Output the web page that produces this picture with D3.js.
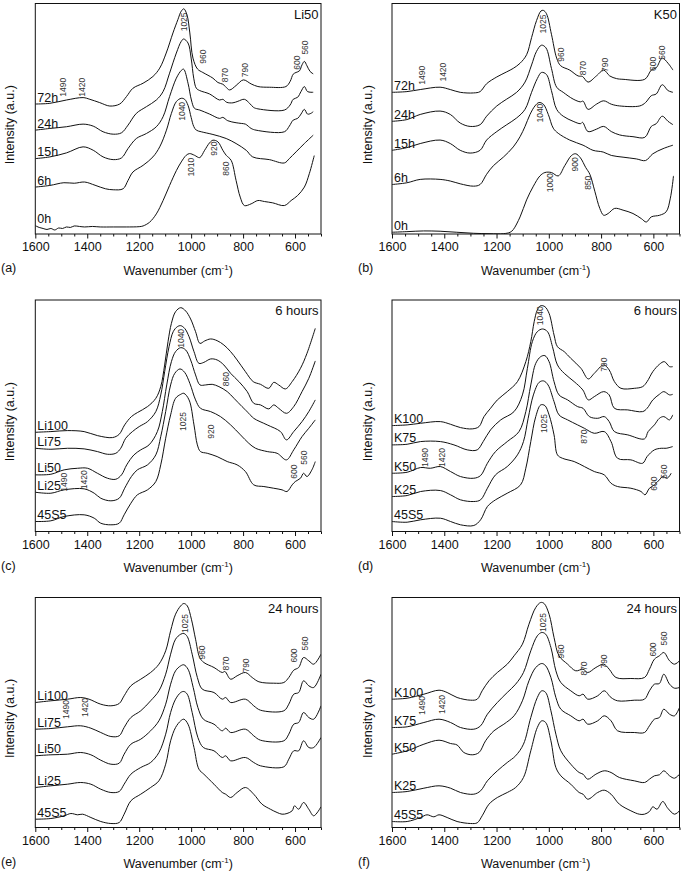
<!DOCTYPE html>
<html><head><meta charset="utf-8">
<script src="https://cdn.jsdelivr.net/npm/d3@7"></script>
<style>body{margin:0;background:#fff}svg{display:block}</style>
</head><body><svg id="chart" width="682" height="874"></svg>
<script>
// ---------- data ----------
const xDomain = [1600, 500];
const xTicksMajor = [1600, 1400, 1200, 1000, 800, 600];
const xTicksMinor = [1550,1500,1450,1350,1300,1250,1150,1100,1050,950,900,850,750,700,650,550,500];
const panelLetters = ["(a)", "(b)", "(c)", "(d)", "(e)", "(f)"];
const panelTitles = ["Li50", "K50", "6 hours", "6 hours", "24 hours", "24 hours"];
const yMaxes = [229.3, 225, 231.7, 231.7, 230, 230];

const seriesA = ["72h", "24h", "15h", "6h", "0h"];
const seriesB = ["72h", "24h", "15h", "6h", "0h"];
const seriesC = ["Li100", "Li75", "Li50", "Li25", "45S5"];
const seriesD = ["K100", "K75", "K50", "K25", "45S5"];
const seriesE = ["Li100", "Li75", "Li50", "Li25", "45S5"];
const seriesF = ["K100", "K75", "K50", "K25", "45S5"];

// panel (a) Li50
const a_72h = [[1600,129.3],[1544,130],[1480,133.3],[1416,135.7],[1390,134],[1352,130.7],[1313,127.3],[1275,129.3],[1249,136.7],[1224,145],[1185,150],[1147,156.7],[1121,165],[1096,180],[1070,200],[1051,213.3],[1038,221.7],[1028,224],[1016,218],[1005,200],[993,175],[975,164],[955,160.7],[916,155],[897,150.7],[878,149],[868,146.7],[852,143.3],[827,147.7],[799,153.3],[769,149.3],[743,146.7],[699,146],[635,146.7],[619,151.7],[607,159],[596,160.7],[583,162.3],[573,168.3],[564,171.7],[554,167.3],[542,161.7],[530,159.3]];
const a_24h = [[1600,103.3],[1544,105],[1480,106.7],[1416,109.3],[1377,107.3],[1339,101.7],[1300,99.3],[1268,100.7],[1243,108.3],[1211,120],[1172,126.7],[1134,133.3],[1108,141.7],[1083,160],[1057,180],[1038,191.7],[1029,194],[1012,190],[1000,175],[990,155],[980,145],[967,142.7],[929,139.3],[891,133.3],[878,134],[863,131],[839,130.5],[820,132],[795,134],[775,130],[760,126],[743,124.5],[641,123.3],[619,128.3],[607,134],[590,136],[577,141.7],[564,146.7],[552,141.7],[530,141]];
const a_15h = [[1600,75],[1544,76.7],[1480,80.7],[1416,86.7],[1377,83.3],[1339,76.7],[1300,74],[1268,75.7],[1243,85],[1211,95],[1172,100],[1134,106.7],[1108,116.7],[1083,136.7],[1057,155],[1038,162.7],[1029,164],[1012,150],[999,133.3],[987,125],[967,123.3],[929,119.3],[891,115],[878,116],[859,112.7],[827,110.7],[807,110],[791,109.3],[769,105],[750,103.3],[641,101.7],[622,107.3],[607,113.3],[590,115],[577,119.3],[564,124],[552,119.3],[539,120],[530,121.7]];
const a_6h = [[1600,46.7],[1544,48.3],[1490,51],[1450,50.5],[1410,51.7],[1370,48.5],[1330,45],[1300,44],[1262,45],[1243,53.3],[1224,61.7],[1185,68.3],[1147,76.7],[1121,86.7],[1095,103.3],[1076,120],[1057,131.7],[1038,135],[1025,134],[1012,128],[1000,116],[990,107],[980,103.3],[961,101.7],[916,99],[865,95],[827,90],[788,83.3],[763,76.7],[699,74],[641,70.7],[622,75],[596,81.7],[564,90],[530,98.3]];
const a_0h = [[1600,8.3],[1585,6.5],[1570,5.5],[1555,4.5],[1540,5.5],[1525,4],[1510,6],[1495,5.5],[1480,7],[1465,6.5],[1450,8],[1430,7.5],[1410,7],[1380,7.5],[1350,7],[1300,7],[1250,7],[1200,7.3],[1185,8],[1160,11.7],[1134,20],[1108,33.3],[1083,48.3],[1057,63],[1038,71.7],[1019,78.3],[1006,80],[987,78.3],[967,76],[948,83.3],[929,90.7],[916,93.3],[897,91.7],[878,83.3],[865,78.3],[846,73.3],[827,53.3],[811,36.7],[795,28.3],[769,30],[743,33.3],[718,32.3],[686,31],[641,28.3],[615,33.3],[590,38.3],[564,46.7],[545,60],[526,78]];

// panel (b) K50
const b_72h = [[1600,138.3],[1543,139],[1492,141],[1416,143.3],[1377,141],[1339,138.3],[1288,137.7],[1263,139],[1238,146.7],[1199,153.3],[1161,158.3],[1136,161.7],[1110,166.7],[1085,175],[1066,191.7],[1047,208.3],[1030,217.7],[1021,218.3],[1009,215],[990,195],[970,171.7],[955,164.3],[920,160],[888,154.3],[871,153.7],[850,148.3],[818,154.3],[790,160],[767,154.3],[741,151.7],[716,151],[633,151],[608,160],[589,162.3],[566,171.7],[544,166.7],[525,160]];
const b_24h = [[1600,110],[1543,111.7],[1492,116.7],[1416,120],[1377,116.7],[1339,108.3],[1301,105],[1263,106.7],[1238,115],[1199,125],[1161,131.7],[1123,138.3],[1091,148.3],[1066,165],[1047,178.3],[1028,184.3],[1011,181.7],[990,161.7],[970,143.3],[945,138.3],[907,131.7],[879,129],[869,129.7],[850,121.7],[818,126.7],[790,130],[761,126.7],[729,125],[652,125],[630,128.3],[608,135],[589,136.7],[566,145.7],[544,140],[525,138.3]];
const b_15h = [[1600,81.7],[1543,84.3],[1492,88.3],[1416,91.7],[1377,88.3],[1339,81.7],[1301,79],[1263,81.7],[1238,91.7],[1199,100],[1161,106.7],[1123,113.3],[1091,121.7],[1066,138.3],[1044,151.7],[1028,157.7],[1009,155.7],[990,140],[970,121.7],[945,115],[907,110],[879,107.7],[871,109],[850,100],[818,102.3],[790,105],[761,100],[729,96.7],[678,95],[633,94.3],[608,105],[589,107.7],[566,115],[544,110],[525,106.7]];
const b_6h = [[1600,48.3],[1543,50],[1492,53.3],[1416,53.3],[1377,51.7],[1339,49],[1288,46.7],[1263,48.3],[1238,58.3],[1212,66.7],[1174,75],[1136,85],[1110,95],[1091,105],[1072,116.7],[1053,125],[1038,128.3],[1021,126.7],[1002,116.7],[983,103.3],[964,98.3],[920,91.7],[869,86.7],[831,81.7],[792,80],[761,76.7],[716,75],[665,73.3],[630,71.7],[602,78.3],[563,83.3],[525,86.7]];
const b_0h = [[1600,1.7],[1543,2.3],[1479,3],[1416,2.7],[1352,1.7],[1288,0.7],[1225,0.3],[1174,0.3],[1148,1.7],[1136,4.3],[1110,16.7],[1085,33.3],[1059,46.7],[1034,56.7],[1015,60],[990,60],[964,56.7],[939,66.7],[913,76.7],[897,78.3],[879,74.3],[859,65],[843,58.3],[824,41.7],[805,25],[790,18.3],[773,20],[748,25],[716,23.3],[678,20],[646,15],[627,11.7],[608,16.7],[576,18.3],[551,21.7],[535,35],[523,56.7]];

// panel (c) 6 hours, Li series
const c_Li100 = [[1600,99.3],[1540,100],[1476,101],[1412,100],[1361,96],[1303,94],[1277,97.3],[1256,106.7],[1230,115],[1207,119],[1168,125],[1136,133.3],[1117,145],[1102,166.7],[1089,190],[1076,208.3],[1060,220],[1040,224],[1021,220.7],[1002,212.7],[983,200],[966,188.3],[948,190.7],[925,192.7],[900,191],[874,186.7],[848,180],[823,171.7],[791,160],[761,150],[733,147.3],[701,143.3],[682,149.3],[663,146.7],[637,142.7],[611,150],[579,163.3],[554,178.3],[522,203.3]];
const c_Li75 = [[1600,83.3],[1540,82.3],[1476,83.3],[1412,82.7],[1361,80],[1322,77.3],[1290,78.3],[1271,83.3],[1252,93.3],[1226,100],[1200,105],[1168,110],[1136,120],[1117,136.7],[1102,160],[1085,185],[1069,200],[1053,205],[1040,206],[1025,203.3],[1008,195],[989,180],[970,168.3],[951,169.3],[925,172.7],[900,171.7],[874,166.7],[848,158.3],[816,150],[784,140],[759,128.3],[733,126.7],[701,122.7],[682,126.7],[663,123.3],[633,118.3],[605,125],[573,140],[547,153.3],[522,170.7]];
const c_Li50 = [[1600,56.7],[1540,57.3],[1489,61.7],[1437,63.3],[1399,63.3],[1361,58.3],[1322,53.3],[1290,52.3],[1268,56.7],[1248,66.7],[1220,76.7],[1194,81.7],[1162,86.7],[1130,100],[1111,120],[1094,146.7],[1076,170],[1060,180],[1040,184],[1021,181.7],[1002,171.7],[983,156.7],[966,146.7],[944,146.7],[919,147.3],[893,145],[861,140],[835,133.3],[804,125],[778,118.3],[759,113.3],[707,106.7],[656,100],[633,91.7],[605,100],[573,110],[547,120],[522,131.7]];
const c_Li25 = [[1600,39.3],[1540,38.3],[1489,41.7],[1412,42.7],[1373,38.3],[1348,33.3],[1309,30.7],[1277,33.3],[1256,43.3],[1230,55],[1207,61.7],[1168,66.7],[1136,76.7],[1117,95],[1098,120],[1079,146.7],[1063,158.3],[1043,162.7],[1025,159.3],[1005,148.3],[983,131.7],[964,123.3],[925,120],[887,115],[848,106.7],[810,96.7],[778,88.3],[752,83.3],[707,80],[669,78.3],[633,71.7],[605,81.7],[573,95],[547,103.3],[522,111.7]];
const c_45S5 = [[1600,10],[1540,10.7],[1489,15],[1412,16.7],[1373,13.3],[1348,8.3],[1309,6.7],[1277,8.3],[1258,16.7],[1232,28.3],[1207,36.7],[1168,41.7],[1136,50],[1117,66.7],[1098,93.3],[1079,116.7],[1060,133.3],[1040,137.3],[1028,138.3],[1008,131.7],[989,106.7],[976,86.7],[964,80],[938,78.3],[900,75],[861,70],[823,66.7],[791,60],[759,46.7],[720,45],[682,43.3],[650,41.7],[631,40],[611,46.7],[599,50],[579,53.3],[567,58.3],[554,55],[535,61.7],[522,70]];

// panel (d) 6 hours, K series
const d_K100 = [[1600,106],[1542,106.7],[1491,108.3],[1415,110],[1376,107.3],[1338,104],[1293,102.7],[1267,105],[1248,115],[1223,123.3],[1197,131.7],[1159,140],[1120,150],[1088,170],[1069,190],[1056,210],[1044,221.7],[1031,226],[1015,225],[999,218.3],[980,196.7],[967,185],[941,180],[916,173.3],[877,163.3],[849,152.7],[826,158.3],[790,166.7],[769,161.7],[749,150],[724,143.3],[673,143.3],[641,145],[624,150],[602,160],[577,167.3],[558,170],[538,165],[526,165]];
const d_K75 = [[1600,86.7],[1542,87.3],[1491,90],[1415,90],[1363,86.7],[1312,81.7],[1274,81.7],[1251,90],[1223,101.7],[1184,111.7],[1133,120],[1101,136.7],[1082,163.3],[1063,190],[1044,200],[1024,202.7],[1005,200],[986,185],[967,166.7],[941,158.3],[903,150],[870,141.7],[849,131.7],[826,135],[790,140],[769,136.7],[749,123.3],[698,121.7],[641,120],[624,123.3],[602,131.7],[577,137.3],[560,140],[538,136.7],[526,137.3]];
const d_K50 = [[1600,58.3],[1542,59.3],[1491,64],[1453,63.3],[1415,65],[1376,60],[1338,55],[1287,53.3],[1261,56],[1235,68.3],[1204,80],[1159,90],[1114,100],[1088,120],[1069,146.7],[1050,168.3],[1031,175],[1015,176],[999,170],[980,150],[961,136.7],[928,131.7],[890,125],[869,123.3],[845,115],[813,113.3],[788,115],[769,110],[749,100],[698,96.7],[634,92.7],[620,100],[596,106.7],[577,113.3],[560,115],[538,111.7],[526,116.7]];
const d_K25 = [[1600,35],[1542,36],[1491,40],[1415,41],[1376,36.7],[1338,31.7],[1287,30],[1261,31.7],[1235,43.3],[1204,56.7],[1159,65],[1120,76.7],[1097,90],[1079,113.3],[1059,136.7],[1037,149.3],[1020,150.7],[1003,146.7],[980,130],[961,116.7],[928,111.7],[890,106.7],[864,103.3],[826,98.3],[788,100],[762,90],[737,73.3],[686,71.7],[641,68.3],[624,75],[596,81.7],[570,83.3],[551,83.3],[526,85]];
const d_45S5 = [[1600,10],[1542,9.3],[1491,11.7],[1415,13.3],[1376,10],[1338,6.7],[1287,6],[1261,11.7],[1235,25],[1204,31.7],[1159,38.3],[1108,46.7],[1088,63.3],[1069,90],[1050,115],[1031,126.7],[1015,126],[999,116.7],[980,96.7],[967,76.7],[948,73.3],[903,70],[864,65],[826,60],[788,56.7],[762,48.3],[737,45],[686,43.3],[647,40],[632,36.7],[615,43.3],[596,46.7],[577,51.7],[564,55],[547,53.3],[532,58.3]];

// panel (e) 24 hours, Li series
const e_Li100 = [[1600,125],[1540,126.7],[1476,128.3],[1425,130],[1393,128.3],[1348,123.3],[1309,121.7],[1277,124],[1258,131.7],[1232,141.7],[1194,148.3],[1156,155],[1124,163.3],[1098,176.7],[1079,196.7],[1060,213.3],[1040,221.7],[1028,224],[1015,221.7],[999,208.3],[983,188.3],[967,170],[951,165],[912,160],[880,155],[870,156],[848,148.3],[823,151.7],[791,155],[765,150],[739,145.7],[682,144.3],[643,145],[624,150],[605,157.3],[586,160],[567,170],[547,166.7],[528,163.3],[500,173.3]];
const e_Li75 = [[1600,98.3],[1540,99],[1476,100.7],[1425,101.7],[1386,99.3],[1348,95],[1309,91],[1277,91.7],[1258,100],[1232,110],[1194,116.7],[1156,126.7],[1124,136.7],[1098,153.3],[1079,173.3],[1060,188.3],[1040,193.3],[1028,194],[1015,191],[996,173.3],[976,150],[957,138.3],[912,135],[880,128.3],[867,130],[848,125],[791,128.3],[759,121.7],[733,117.3],[643,116.7],[624,123.3],[605,133.3],[586,135],[567,146.7],[547,141.7],[528,140],[500,153.3]];
const e_Li50 = [[1600,71.7],[1540,72.7],[1476,73.3],[1425,75],[1386,72.7],[1348,67.3],[1309,63.3],[1277,64.3],[1258,73.3],[1232,83.3],[1194,88.3],[1156,96.7],[1124,106.7],[1098,123.3],[1079,143.3],[1060,156.7],[1040,161.7],[1028,162.7],[1012,158.3],[992,140],[974,120],[953,108.3],[912,103.3],[880,96.7],[867,99.3],[848,95],[791,98.3],[759,91.7],[733,87.3],[643,86.7],[624,93.3],[605,103.3],[586,105],[567,115],[547,110],[528,108.3],[500,121.7]];
const e_Li25 = [[1600,40],[1540,41.7],[1476,43.3],[1425,45],[1386,43.3],[1348,38.3],[1309,35],[1277,36],[1258,43.3],[1232,53.3],[1194,60],[1156,65],[1124,75],[1098,93.3],[1079,115],[1060,128.3],[1040,135],[1028,136],[1015,133.3],[996,115],[974,90],[953,80],[912,76.7],[880,70],[867,71.7],[848,66.7],[791,70],[759,65],[733,61.7],[643,60.7],[624,68.3],[605,76.7],[586,76.7],[567,86.7],[547,80],[528,80],[500,90]];
const e_45S5 = [[1600,8.3],[1540,9],[1489,11.7],[1463,14],[1437,12.7],[1418,13.3],[1386,10],[1348,6],[1309,4],[1277,5],[1258,13.3],[1232,26.7],[1194,33.3],[1156,40],[1124,46.7],[1098,63.3],[1079,86.7],[1060,100],[1040,106.7],[1028,108.3],[1012,103.3],[989,80],[970,58.3],[951,53.3],[912,43.3],[880,35],[867,33.3],[848,30],[823,35],[791,40],[759,33.3],[727,23.3],[695,18.3],[669,15],[650,13.3],[631,14],[611,16.7],[602,21.7],[586,18.3],[567,25],[547,18.3],[528,11.7],[500,20.7]];

// panel (f) 24 hours, K series
const f_K100 = [[1600,128.3],[1542,129.3],[1478,133.3],[1420,137.3],[1389,135],[1351,130],[1299,127.3],[1274,128.3],[1255,136.7],[1229,146.7],[1197,155],[1159,163.3],[1133,171.7],[1101,183.3],[1076,203.3],[1050,220],[1031,225],[1018,224],[999,213.3],[980,190],[961,171.7],[928,163.3],[897,156.7],[869,158.3],[851,155],[820,160],[790,163.3],[769,158.3],[743,150],[686,149],[634,150],[615,158.3],[596,168.3],[577,171.7],[560,175],[538,166.7],[519,163.3],[500,166.7]];
const f_K75 = [[1600,100],[1542,100.7],[1478,105],[1420,108.3],[1376,105],[1338,100],[1287,98.3],[1261,101.7],[1235,113.3],[1197,125],[1159,135],[1127,143.3],[1097,155],[1069,176.7],[1044,191.7],[1027,195],[1012,193.3],[992,180],[973,156.7],[954,145],[916,136.7],[884,131.7],[869,133.3],[851,128.3],[813,131.7],[788,136.7],[762,130],[737,126.7],[673,127.3],[634,128.3],[615,136.7],[596,143.3],[577,144],[560,153.3],[538,143.3],[519,139.3],[500,140]];
const f_K50 = [[1600,73.3],[1542,76.7],[1478,83.3],[1420,87.3],[1376,84],[1351,82.5],[1325,75],[1293,72.7],[1267,75],[1242,86.7],[1210,96.7],[1172,103.3],[1133,111.7],[1101,126.7],[1076,146.7],[1050,160],[1027,164],[1012,161.7],[992,150],[973,130],[954,118.3],[916,111.7],[884,106.7],[869,108.3],[851,103.3],[813,106.7],[788,111.7],[762,106.7],[737,96.7],[673,95],[634,95],[615,101.7],[596,108.3],[577,110],[560,118.3],[538,113.3],[519,111.7],[500,120]];
const f_K25 = [[1600,35],[1542,36],[1478,39.3],[1420,41.7],[1376,39.3],[1338,35],[1287,33.3],[1261,36.7],[1235,46.7],[1197,56.7],[1159,65],[1127,71.7],[1097,83.3],[1069,110],[1044,130],[1027,136.7],[1012,135],[992,116.7],[973,93.3],[954,76.7],[916,63.3],[884,55],[869,53.3],[851,48.3],[820,53.3],[788,56.7],[762,55],[730,50],[673,46.7],[634,45],[615,48.3],[596,51.7],[577,52.7],[560,56.7],[538,51.7],[519,49.3],[500,53.3]];
const f_45S5 = [[1600,6],[1542,6],[1491,10],[1466,12.7],[1440,10.7],[1420,12.7],[1389,10],[1351,6],[1299,4],[1274,4.7],[1255,11.7],[1229,23.3],[1197,30],[1159,35],[1127,40],[1097,50],[1069,76.7],[1044,100],[1027,106.7],[1012,105],[992,86.7],[973,60],[954,51.7],[916,43.3],[884,35],[869,33.3],[851,28.3],[813,35],[788,37.3],[762,33.3],[730,23.3],[686,16.7],[654,13.3],[634,13.3],[615,16],[602,20.7],[586,18.3],[564,26],[545,19.3],[519,13.3],[500,16.7]];

// peak annotations: [label, wavenumber, intensity (centre of the rotated text)]
const notesA = [["1490",1493,146],["1420",1422,146],["1025",1028,211],["960",955,176.5],["870",868,158],["790",791,163],["600",594,170.5],["560",560,185.5],["1040",1034,122],["1010",999,66.5],["920",910,85],["860",865,65]];
const notesB = [["1490",1486,155],["1420",1403,158],["1025",1021,205],["960",955,175],["870",869,162],["790",786,165],["600",601,166],["560",566,177],["1040",1034,118],["1000",996,50],["900",900,68],["850",850,50]];
const notesC = [["1040",1040,193.3],["860",864,152.6],["1025",1030,110],["920",923,100],["1490",1489,49.3],["1420",1412,51.7],["600",605,60],["560",567,74]];
const notesD = [["1040",1035,216],["790",788,167],["1025",1020,108],["870",865,95],["1490",1475,74],["1420",1408,74],["600",596,48],["560",560,60]];
const notesE = [["1025",1024,204],["960",957,175],["870",867,164],["790",787,162],["600",605,172],["560",560,184],["1490",1482,118],["1420",1409,120]];
const notesF = [["1025",1024,205],["960",954,176],["870",865,159],["790",788,166],["600",602,178],["560",560,189],["1490",1485,122],["1420",1408,123]];

// ---------- drawing ----------
const FONT = '"Liberation Sans", Arial, Helvetica, sans-serif';
const INK = "#111";
const cols = [{left: 35.3, right: 321}, {left: 392, right: 679.5}];
const rows = [{top: 3.5, bottom: 234}, {top: 300, bottom: 531.5}, {top: 597.5, bottom: 827.5}];
const yLabelX = [10, 368];
const letterX = [1, 358];

const panels = [
  {names: seriesA, data: [a_72h, a_24h, a_15h, a_6h, a_0h], notes: notesA},
  {names: seriesB, data: [b_72h, b_24h, b_15h, b_6h, b_0h], notes: notesB},
  {names: seriesC, data: [c_Li100, c_Li75, c_Li50, c_Li25, c_45S5], notes: notesC},
  {names: seriesD, data: [d_K100, d_K75, d_K50, d_K25, d_45S5], notes: notesD},
  {names: seriesE, data: [e_Li100, e_Li75, e_Li50, e_Li25, e_45S5], notes: notesE},
  {names: seriesF, data: [f_K100, f_K75, f_K50, f_K25, f_45S5], notes: notesF}
];

const svg = d3.select("#chart");
svg.append("rect").attr("width", 682).attr("height", 874).attr("fill", "#fff");

panels.forEach((p, i) => {
  const c = cols[i % 2], r = rows[Math.floor(i / 2)];
  const x = d3.scaleLinear().domain(xDomain).range([c.left, c.right]);
  const y = d3.scaleLinear().domain([0, yMaxes[i]]).range([r.bottom, r.top]);
  const g = svg.append("g").attr("font-family", FONT);

  const clipId = "clip" + i;
  svg.append("clipPath").attr("id", clipId).append("rect")
    .attr("x", c.left).attr("y", r.top).attr("width", c.right - c.left).attr("height", r.bottom - r.top);

  const line = d3.line().x(d => x(d[0])).y(d => y(d[1])).curve(d3.curveCatmullRom.alpha(0.5));
  g.append("g").attr("clip-path", `url(#${clipId})`)
    .selectAll("path").data(p.data).join("path")
    .attr("d", line).attr("fill", "none").attr("stroke", INK).attr("stroke-width", 1);

  // frame
  g.append("rect").attr("x", c.left).attr("y", r.top)
    .attr("width", c.right - c.left).attr("height", r.bottom - r.top)
    .attr("fill", "none").attr("stroke", INK).attr("stroke-width", 1);

  // bottom axis: minor and major ticks
  const minorAx = g.append("g").attr("transform", `translate(0,${r.bottom})`)
    .call(d3.axisBottom(x).tickValues(xTicksMinor).tickSize(2.5).tickFormat(""));
  minorAx.select(".domain").remove();
  minorAx.selectAll("line").attr("stroke", INK);
  const majorAx = g.append("g").attr("transform", `translate(0,${r.bottom})`)
    .call(d3.axisBottom(x).tickValues(xTicksMajor).tickSize(4.5).tickPadding(4).tickFormat(d3.format("d")));
  majorAx.select(".domain").remove();
  majorAx.attr("font-family", FONT).attr("font-size", 12.5);
  majorAx.selectAll("line").attr("stroke", INK);
  majorAx.selectAll("text").attr("fill", INK);

  // series labels
  g.selectAll(".slabel").data(p.names).join("text")
    .attr("x", c.left + 2)
    .attr("y", (d, k) => y(p.data[k][0][1]) - 2.5)
    .attr("font-size", 12.5).attr("fill", INK).text(d => d);

  // peak annotations
  g.selectAll(".note").data(p.notes).join("text")
    .attr("transform", d => `translate(${x(d[1])},${y(d[2])}) rotate(-90)`)
    .attr("text-anchor", "middle").attr("dy", "0.35em")
    .attr("font-size", 8.5).attr("fill", "#333").text(d => d[0]);

  // panel title
  g.append("text").attr("x", c.right - 2.5).attr("y", r.top + 15)
    .attr("text-anchor", "end").attr("font-size", 13).attr("fill", INK).text(panelTitles[i]);

  // y label
  g.append("text")
    .attr("transform", `translate(${yLabelX[i % 2]},${(r.top + r.bottom) / 2 + 6}) rotate(-90)`)
    .attr("text-anchor", "middle").attr("dy", "0.35em")
    .attr("font-size", 12.5).attr("fill", INK).text("Intensity (a.u.)");

  // x label
  const xl = g.append("text").attr("x", (c.left + c.right) / 2).attr("y", r.bottom + 40.5)
    .attr("text-anchor", "middle").attr("font-size", 12.5).attr("fill", INK);
  xl.append("tspan").text("Wavenumber (cm");
  xl.append("tspan").attr("font-size", 8).attr("dy", -5).text("-1");
  xl.append("tspan").attr("dy", 5).text(")");

  // panel letter
  g.append("text").attr("x", letterX[i % 2]).attr("y", r.bottom + 38)
    .attr("font-size", 12.5).attr("fill", INK).text(panelLetters[i]);
});
</script>
</body></html>
